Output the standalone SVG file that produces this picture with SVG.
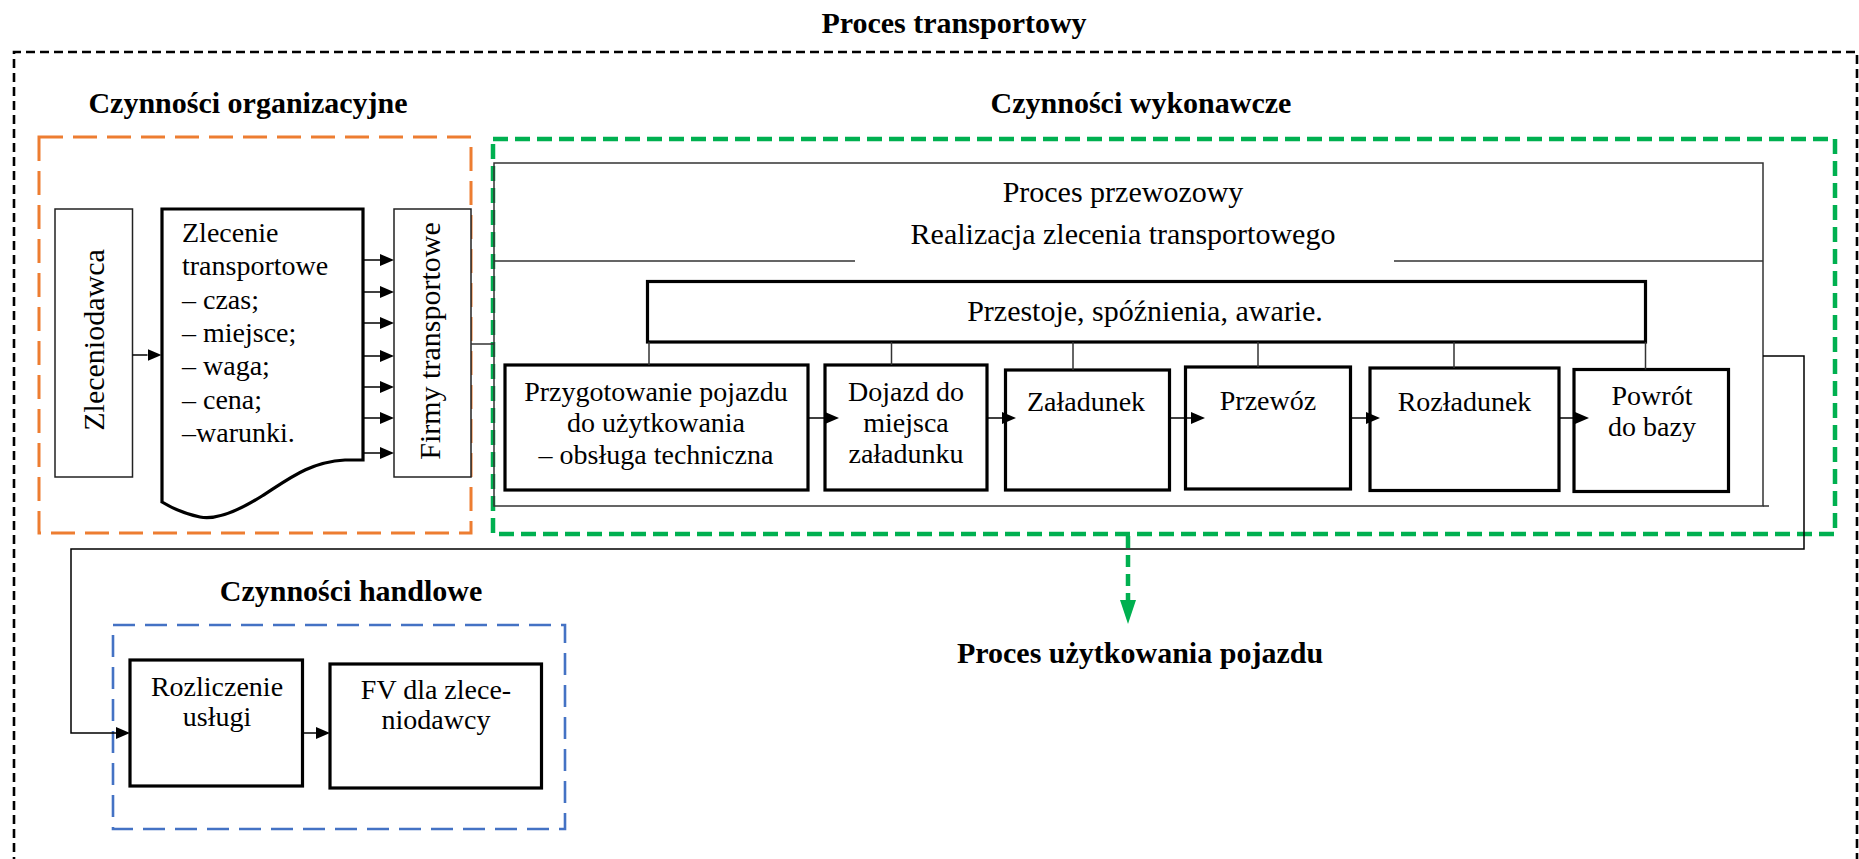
<svg xmlns="http://www.w3.org/2000/svg" width="1859" height="859" viewBox="0 0 1859 859">
<style>
  text { font-family: "Liberation Serif", "Times New Roman", serif; fill: #000; }
  .b { font-weight: bold; font-size: 30px; }
  .s28 { font-size: 28px; }
  .s30 { font-size: 30px; }
  .mid { text-anchor: middle; }
  .thin { fill: none; stroke: #333; stroke-width: 1.5; }
  .tbox { fill: #fff; stroke: #222; stroke-width: 1.5; }
  .thick { fill: #fff; stroke: #000; stroke-width: 3.2; }
  .outer { fill: none; stroke: #000; stroke-width: 2.6; stroke-dasharray: 9 5; }
  .orange { fill: none; stroke: #ED7D31; stroke-width: 3; stroke-dasharray: 24 10; }
  .green { fill: none; stroke: #00B050; stroke-width: 4.5; stroke-dasharray: 15 7; }
  .blue { fill: none; stroke: #4472C4; stroke-width: 2.6; stroke-dasharray: 22 10; }
  .arr { fill: none; stroke: #000; stroke-width: 1.5; marker-end: url(#ah); }
</style>
<defs>
  <marker id="ah" markerUnits="userSpaceOnUse" markerWidth="14" markerHeight="12" viewBox="0 0 14 12" refX="0" refY="6" orient="auto">
    <path d="M0,0 L14,6 L0,12 Z" fill="#000"/>
  </marker>
  <marker id="gh" markerUnits="userSpaceOnUse" markerWidth="24" markerHeight="16" viewBox="0 0 24 16" refX="0" refY="8" orient="auto">
    <path d="M0,0 L24,8 L0,16 Z" fill="#00B050"/>
  </marker>
</defs>
<rect width="1859" height="859" fill="#fff"/>

<g id="outer-frame">
  <path class="outer" d="M14,880 V52 H1857 V880"/>
  <text class="b mid" x="954" y="33">Proces transportowy</text>
</g>

<g id="group-organizacyjne">
  <text class="b mid" x="248" y="113">Czynności organizacyjne</text>
  <rect class="orange" x="39" y="137" width="432" height="396"/>
</g>

<g id="group-wykonawcze">
  <text class="b mid" x="1141" y="113">Czynności wykonawcze</text>
  <rect class="green" x="493" y="139" width="1342" height="395"/>
</g>

<g id="group-handlowe">
  <text class="b mid" x="351" y="601">Czynności handlowe</text>
  <rect class="blue" x="113" y="625" width="452" height="204"/>
</g>

<g id="node-zleceniodawca">
  <rect class="tbox" x="55" y="209" width="77.5" height="268"/>
  <text class="s30 mid" transform="translate(104,340) rotate(-90)">Zleceniodawca</text>
</g>

<g id="node-zlecenie">
  <path class="thick" d="M162,209 H363 V460 H345 C310,462 290,478 262,496 C235,513 215,520 200,517 C185,514 172,508 162,502 Z"/>
  <text class="s28" x="182" y="242">Zlecenie</text>
  <text class="s28" x="182" y="275">transportowe</text>
  <text class="s28" x="182" y="308.5">– czas;</text>
  <text class="s28" x="182" y="341.5">– miejsce;</text>
  <text class="s28" x="182" y="375">– waga;</text>
  <text class="s28" x="182" y="408.5">– cena;</text>
  <text class="s28" x="182" y="442">–warunki.</text>
</g>

<g id="node-firmy">
  <rect class="tbox" x="394" y="209" width="77" height="268"/>
  <text class="s30 mid" transform="translate(440,341) rotate(-90)">Firmy transportowe</text>
</g>

<g id="node-proces-przewozowy">
  <path class="thin" d="M494,163 H1763 V506 H494 Z"/>
  <path class="thin" d="M494,261 H855 M1394,261 H1763 M1763,506 H1769"/>
  <text class="s30 mid" x="1123" y="202">Proces przewozowy</text>
  <text class="s30 mid" x="1123" y="244">Realizacja zlecenia transportowego</text>
</g>

<g id="node-przestoje">
  <rect class="thick" x="647.5" y="281.5" width="998" height="60.5"/>
  <text class="s30 mid" x="1145" y="321">Przestoje, spóźnienia, awarie.</text>
</g>

<g id="node-przygotowanie">
  <rect class="thick" x="505" y="365" width="303" height="125"/>
  <text class="s28 mid" x="656" y="401">Przygotowanie pojazdu</text>
  <text class="s28 mid" x="656" y="432">do użytkowania</text>
  <text class="s28 mid" x="656" y="464">– obsługa techniczna</text>
</g>

<g id="node-dojazd">
  <rect class="thick" x="825" y="365" width="162" height="125"/>
  <text class="s28 mid" x="906" y="401">Dojazd do</text>
  <text class="s28 mid" x="906" y="432">miejsca</text>
  <text class="s28 mid" x="906" y="463">załadunku</text>
</g>

<g id="node-zaladunek">
  <rect class="thick" x="1005.5" y="370" width="164" height="120"/>
  <text class="s28 mid" x="1086" y="411">Załadunek</text>
</g>

<g id="node-przewoz">
  <rect class="thick" x="1185.5" y="367" width="165" height="122"/>
  <text class="s28 mid" x="1268" y="410">Przewóz</text>
</g>

<g id="node-rozladunek">
  <rect class="thick" x="1370" y="368" width="189" height="122.5"/>
  <text class="s28 mid" x="1464.5" y="411">Rozładunek</text>
</g>

<g id="node-powrot">
  <rect class="thick" x="1574" y="369.5" width="154.5" height="122"/>
  <text class="s28 mid" x="1652" y="405">Powrót</text>
  <text class="s28 mid" x="1652" y="436">do bazy</text>
</g>

<g id="node-rozliczenie">
  <rect class="thick" x="130" y="660" width="172.5" height="126"/>
  <text class="s28 mid" x="217" y="696">Rozliczenie</text>
  <text class="s28 mid" x="217" y="726">usługi</text>
</g>

<g id="node-fv">
  <rect class="thick" x="330" y="664" width="211.5" height="124"/>
  <text class="s28 mid" x="436" y="699">FV dla zlece-</text>
  <text class="s28 mid" x="436" y="729">niodawcy</text>
</g>

<g id="node-uzytkowanie">
  <text class="b mid" x="1140" y="663">Proces użytkowania pojazdu</text>
</g>

<g id="connectors">
  <line class="arr" x1="132.5" y1="355" x2="147.5" y2="355"/>
  <line class="arr" x1="363" y1="260" x2="380" y2="260"/>
  <line class="arr" x1="363" y1="292" x2="380" y2="292"/>
  <line class="arr" x1="363" y1="323" x2="380" y2="323"/>
  <line class="arr" x1="363" y1="356" x2="380" y2="356"/>
  <line class="arr" x1="363" y1="387" x2="380" y2="387"/>
  <line class="arr" x1="363" y1="418" x2="380" y2="418"/>
  <line class="arr" x1="363" y1="453" x2="380" y2="453"/>
  <line class="thin" x1="471" y1="344" x2="494" y2="344"/>
  <line class="thin" x1="649" y1="342" x2="649" y2="365"/>
  <line class="thin" x1="891.5" y1="342" x2="891.5" y2="365"/>
  <line class="thin" x1="1073" y1="342" x2="1073" y2="370"/>
  <line class="thin" x1="1258" y1="342" x2="1258" y2="367"/>
  <line class="thin" x1="1454" y1="342" x2="1454" y2="368"/>
  <line class="thin" x1="1645.5" y1="342" x2="1645.5" y2="369.5"/>
  <line class="arr" x1="808" y1="418" x2="825" y2="418"/>
  <line class="arr" x1="987" y1="418" x2="1002" y2="418"/>
  <line class="arr" x1="1170" y1="418" x2="1191" y2="418"/>
  <line class="arr" x1="1350.5" y1="418" x2="1366" y2="418"/>
  <line class="arr" x1="1559" y1="418" x2="1575" y2="418"/>
  <path class="arr" d="M1763,356 H1804 V549 H71 V733 H116"/>
  <line class="arr" x1="302.5" y1="733" x2="316" y2="733"/>
  <line fill="none" stroke="#00B050" stroke-width="4.5" stroke-dasharray="12 7" x1="1128" y1="536" x2="1128" y2="600" marker-end="url(#gh)"/>
</g>
</svg>
